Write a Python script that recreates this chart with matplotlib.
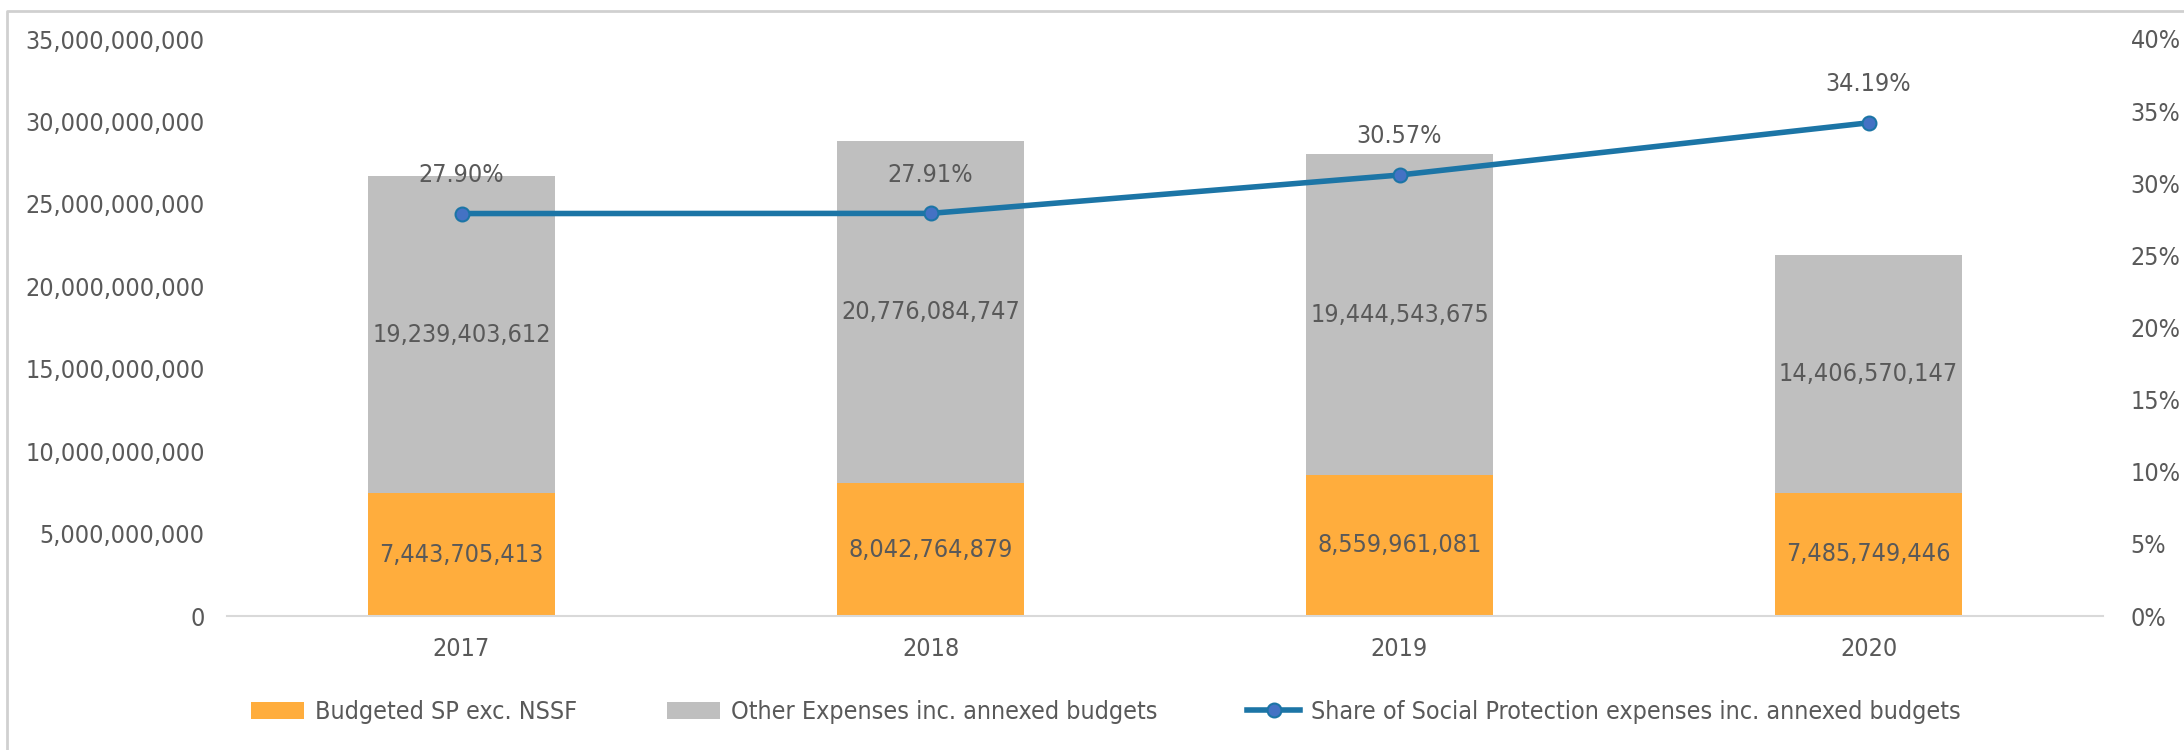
import numpy as np
import matplotlib.pyplot as plt
from matplotlib.lines import Line2D
from matplotlib.ticker import FuncFormatter, MultipleLocator

years = ["2017", "2018", "2019", "2020"]
budgeted_sp = [7443705413, 8042764879, 8559961081, 7485749446]
other_expenses = [19239403612, 20776084747, 19444543675, 14406570147]
share_sp = [27.90, 27.91, 30.57, 34.19]

plt.rcParams['font.family'] = ['DejaVu Sans']
plt.rcParams['font.stretch'] = 'condensed'
text_grey = "#595959"
fs = 18

fig = plt.figure(figsize=(21.84, 7.5), dpi=100)
ax = fig.add_axes([227 / 2184, 1 - 616 / 750, (2103 - 227) / 2184, (616 - 39) / 750])
ax2 = ax.twinx()

x = np.arange(len(years))
width = 0.4

b1 = ax.bar(x, budgeted_sp, width, color="#FFAD3D", label="Budgeted SP exc. NSSF", zorder=2)
b2 = ax.bar(x, other_expenses, width, bottom=budgeted_sp, color="#BFBFBF",
            label="Other Expenses inc. annexed budgets", zorder=2)

for i in range(len(years)):
    ax.text(x[i], budgeted_sp[i] / 2, f"{budgeted_sp[i]:,}", ha="center", va="center",
            fontsize=fs, color=text_grey, zorder=3)
    ax.text(x[i], budgeted_sp[i] + other_expenses[i] / 2, f"{other_expenses[i]:,}",
            ha="center", va="center", fontsize=fs, color=text_grey, zorder=3)

ln, = ax2.plot(x, share_sp, color="#1C75A6", lw=4, marker="o", markersize=10,
               markerfacecolor="#4472C4", markeredgecolor="#1C75A6", markeredgewidth=1.5,
               label="Share of Social Protection expenses inc. annexed budgets", zorder=4)
for i in range(len(years)):
    ax2.annotate(f"{share_sp[i]:.2f}%", (x[i], share_sp[i]), xytext=(0, 28),
                 textcoords="offset points", ha="center", va="center",
                 fontsize=fs, color=text_grey)

ax.set_xlim(-0.5, len(years) - 0.5)
ax.set_ylim(0, 35e9)
ax.yaxis.set_major_locator(MultipleLocator(5e9))
ax.yaxis.set_major_formatter(FuncFormatter(lambda v, p: f"{int(v):,}"))
ax2.set_ylim(0, 40)
ax2.yaxis.set_major_locator(MultipleLocator(5))
ax2.yaxis.set_major_formatter(FuncFormatter(lambda v, p: f"{int(v)}%"))

ax.set_xticks(x)
ax.set_xticklabels(years)

for a in (ax, ax2):
    for s in a.spines.values():
        s.set_visible(False)
    a.tick_params(length=0, labelsize=fs, colors=text_grey)
ax.spines["bottom"].set_visible(True)
ax.spines["bottom"].set_color("#D9D9D9")
ax.spines["bottom"].set_linewidth(1.5)
ax.tick_params(axis="y", pad=16)
ax.tick_params(axis="x", pad=15)
ax2.tick_params(axis="y", pad=20)

fig.legend(handles=[b1, b2, ln], loc="center", bbox_to_anchor=(1106 / 2184, 1 - 712 / 750),
           ncol=3, frameon=False, fontsize=fs, labelcolor=text_grey,
           handlelength=2.1, handleheight=0.65, columnspacing=3.6, handletextpad=0.45)

# chart frame (only top and left edges visible in the crop)
fig.add_artist(Line2D([7 / 2184, 7 / 2184, 1], [0, 1 - 11 / 750, 1 - 11 / 750],
                      transform=fig.transFigure, color="#D0D0D0", lw=2))

fig.savefig("out.png", dpi=100)
